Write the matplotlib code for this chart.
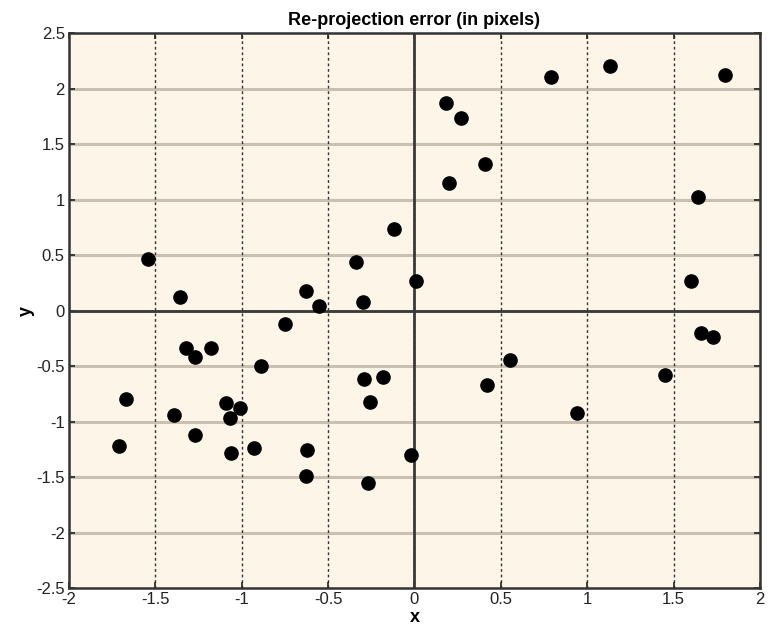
import matplotlib
matplotlib.use("Agg")
import matplotlib.pyplot as plt
import numpy as np

plt.rcParams['font.family'] = ['Liberation Sans', 'DejaVu Sans']

x_vals = [-1.54, -1.36, -1.32, -1.27, -1.18, -1.71, -1.67, -1.39, -1.27, -1.09,
          -1.07, -1.01, -1.06, -0.93, -0.89, -0.75, -0.63, -0.55, -0.62, -0.63,
          -0.34, -0.30, -0.29, -0.26, -0.18, -0.27, -0.12, 0.01, -0.02, 0.18,
          0.27, 0.20, 0.41, 0.42, 0.55, 0.79, 1.13, 0.94, 1.45, 1.60,
          1.64, 1.66, 1.73, 1.80]
y_vals = [0.46, 0.12, -0.34, -0.42, -0.34, -1.22, -0.80, -0.94, -1.12, -0.83,
          -0.97, -0.88, -1.28, -1.24, -0.50, -0.12, 0.18, 0.04, -1.26, -1.49,
          0.44, 0.08, -0.62, -0.82, -0.60, -1.55, 0.73, 0.27, -1.30, 1.87,
          1.73, 1.15, 1.32, -0.67, -0.45, 2.10, 2.20, -0.92, -0.58, 0.27,
          1.02, -0.20, -0.24, 2.12]
x_ticks = [-2, -1.5, -1, -0.5, 0, 0.5, 1, 1.5, 2]
y_ticks = [-2.5, -2, -1.5, -1, -0.5, 0, 0.5, 1, 1.5, 2, 2.5]
x_ticklabels = ['-2', '-1.5', '-1', '-0.5', '0', '0.5', '1', '1.5', '2']
y_ticklabels = ['-2.5', '-2', '-1.5', '-1', '-0.5', '0', '0.5', '1', '1.5', '2', '2.5']

fig = plt.figure(figsize=(7.68, 6.35), dpi=100)
ax = fig.add_axes([0.0898, 0.074, 0.8998, 0.874])
ax.set_facecolor('#fdf5e8')

ax.set_xlim(-2, 2)
ax.set_ylim(-2.5, 2.5)

for yt in y_ticks[1:-1]:
    ax.axhline(yt, color='#c9c0b2', lw=2.2, zorder=1)
for xt in x_ticks[1:-1]:
    ax.axvline(xt, color='#333333', lw=1.0, ls=(0, (2, 2)), zorder=1)
ax.axhline(0, color='#3a3a3a', lw=2.0, zorder=2)
ax.axvline(0, color='#3a3a3a', lw=2.0, zorder=2)

ax.plot(x_vals, y_vals, 'o', color='black', ms=9.5, zorder=3)

ax.set_xticks(x_ticks)
ax.set_xticklabels(x_ticklabels)
ax.set_yticks(y_ticks)
ax.set_yticklabels(y_ticklabels)
ax.tick_params(direction='in', length=4, width=1.2, labelsize=12, colors='#222222', pad=3)
ax.tick_params(top=True, right=True)

for s in ax.spines.values():
    s.set_linewidth(1.8)
    s.set_color('#333333')

ax.set_title('Re-projection error (in pixels)', fontsize=13, fontweight='bold', pad=6)
ax.set_xlabel('x', fontsize=13, fontweight='bold', labelpad=1)
ax.set_ylabel('y', fontsize=13, fontweight='bold', labelpad=1)

fig.savefig('out.png', dpi=100)
